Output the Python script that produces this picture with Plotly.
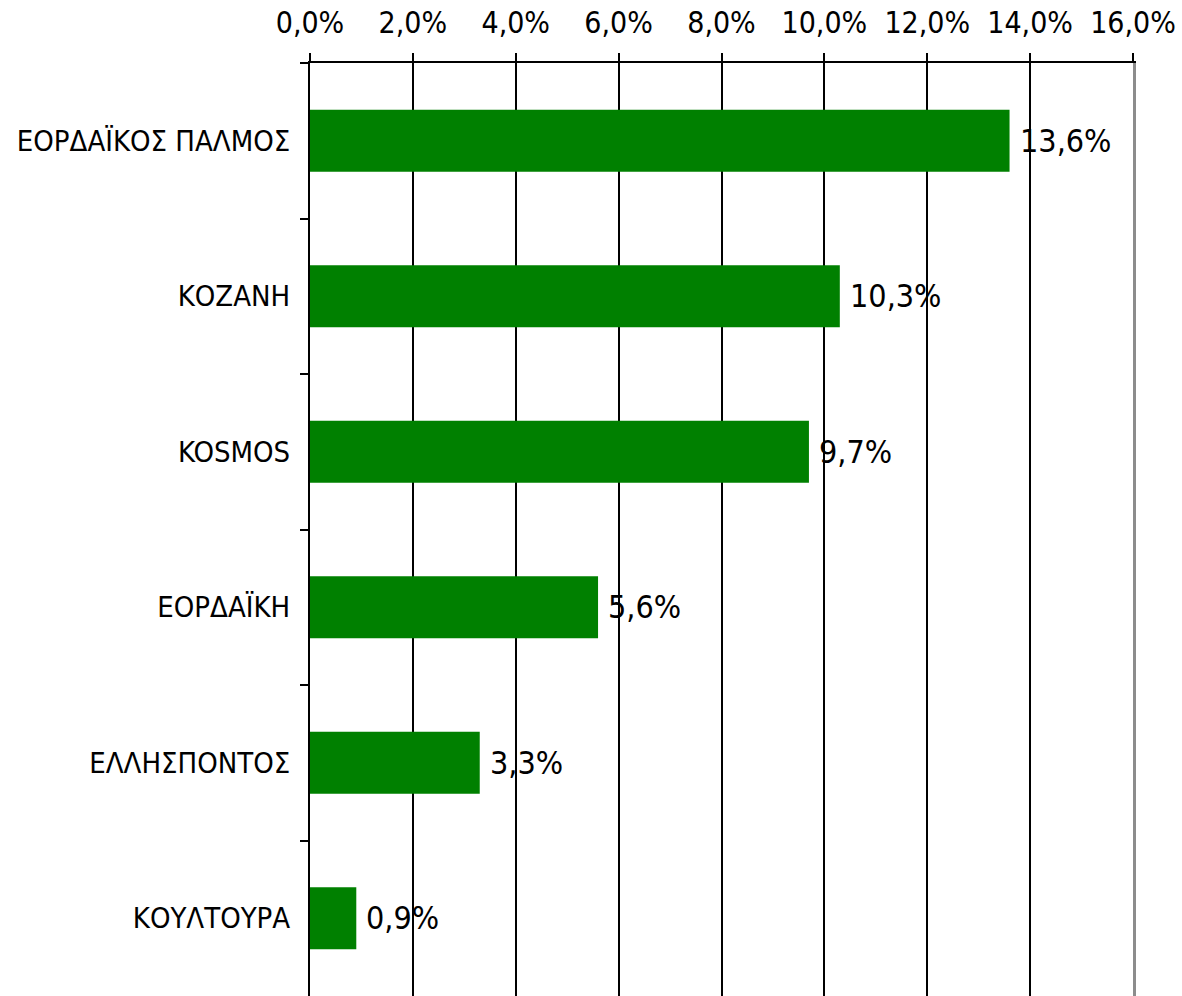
import plotly.graph_objects as go

categories = ["ΕΟΡΔΑΪΚΟΣ ΠΑΛΜΟΣ", "ΚΟΖΑΝΗ", "KOSMOS", "ΕΟΡΔΑΪΚΗ", "ΕΛΛΗΣΠΟΝΤΟΣ", "ΚΟΥΛΤΟΥΡΑ"]
values = [13.6, 10.3, 9.7, 5.6, 3.3, 0.9]
tick_vals = [0, 2, 4, 6, 8, 10, 12, 14, 16]
tick_text = ["0,0%", "2,0%", "4,0%", "6,0%", "8,0%", "10,0%", "12,0%", "14,0%", "16,0%"]
labels = [f"{v:.1f}%".replace(".", ",") for v in values]

FONT = "DejaVu Sans Condensed, DejaVu Sans, sans-serif"

fig = go.Figure()
fig.add_trace(go.Bar(
    x=values, y=categories, orientation="h",
    marker=dict(color="#008000", line=dict(width=0)),
    hoverinfo="skip",
))

for v, c, t in zip(values, categories, labels):
    fig.add_annotation(x=v, y=c, text=t, showarrow=False, xanchor="left",
                       xshift=8, font=dict(family=FONT, size=32, color="black"))

# invisible trace to create right-side axis line (gray border at 16%)
fig.add_trace(go.Scatter(x=[None], y=[None], yaxis="y2", showlegend=False, hoverinfo="skip"))

fig.update_layout(
    width=1182, height=996,
    margin=dict(l=310, r=49, t=63, b=0),
    paper_bgcolor="white", plot_bgcolor="white",
    bargap=0.6, showlegend=False,
    font=dict(family=FONT, size=29, color="black"),
    xaxis=dict(
        side="top", range=[0, 16], tickvals=tick_vals, ticktext=tick_text,
        showgrid=True, gridcolor="black", gridwidth=2,
        showline=True, linecolor="black", linewidth=2,
        ticks="outside", ticklen=8, tickwidth=2, tickcolor="black",
        zeroline=False, ticklabelstandoff=8,
        tickfont=dict(family=FONT, size=30, color="black"),
        automargin=False,
    ),
    yaxis=dict(
        autorange="reversed", type="category",
        showline=True, linecolor="black", linewidth=2,
        ticks="outside", ticklen=8, tickwidth=2, tickcolor="black",
        tickson="boundaries", showgrid=False, ticklabelstandoff=12,
        tickfont=dict(family=FONT, size=29, color="black"),
        automargin=False,
    ),
    yaxis2=dict(
        overlaying="y", side="right", showline=True, linecolor="#8c8c8c",
        linewidth=3, showticklabels=False, ticks="", showgrid=False,
        zeroline=False, range=[0, 1], automargin=False,
    ),
)

fig.write_html("out.html",
               config={"displayModeBar": False, "staticPlot": True},
               post_script="document.body.style.margin='0';document.body.style.overflow='hidden';")
